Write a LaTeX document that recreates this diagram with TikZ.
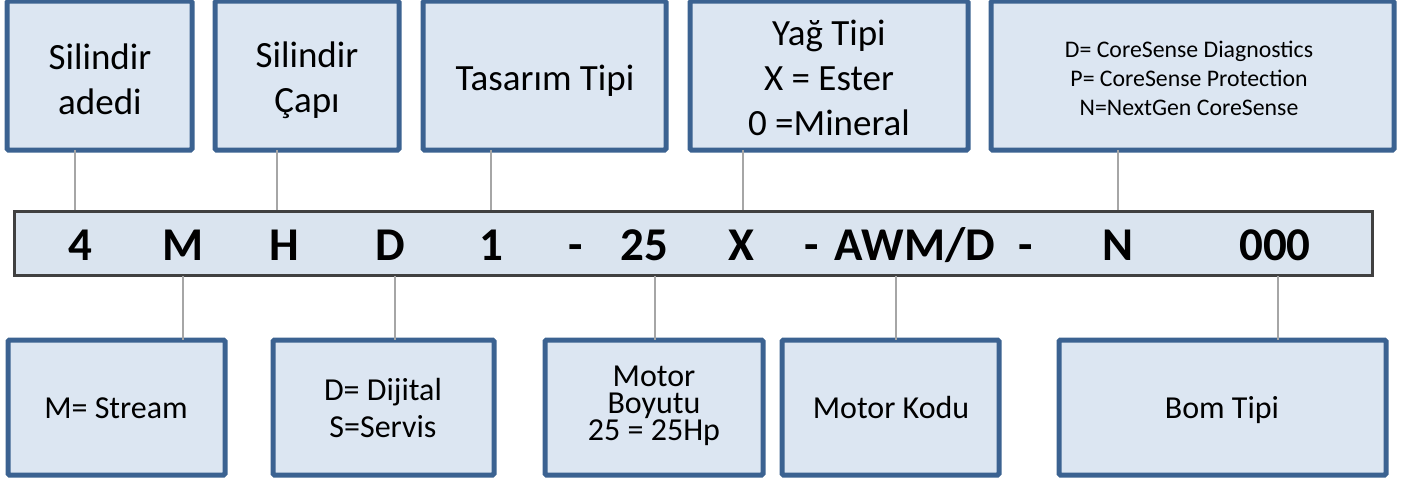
\documentclass[tikz,border=0pt]{standalone}
\usepackage{fontspec}
\setmainfont{Carlito}
\definecolor{boxfill}{HTML}{DCE6F2}
\definecolor{boxline}{HTML}{3B6291}
\definecolor{barfill}{HTML}{DAE4EF}
\definecolor{barline}{HTML}{404040}
\definecolor{linkc}{HTML}{A6A6A6}
\newcommand{\pxbox}[6]{% name, x1, y1, x2, y2, text
  \node[infobox, minimum width=#4pt-#2pt, minimum height=#5pt-#3pt] (#1) at ({(#2+#4)/2},{(#3+#5)/2}) {#6};}
\tikzset{
  x=1pt,y=-1pt,
  infobox/.style={draw=boxline,fill=boxfill,line width=5pt,rounded corners=1.5pt,inner sep=0pt,align=center,outer sep=0pt,text=black},
  codebar/.style={draw=barline,fill=barfill,line width=3pt,inner sep=0pt,outer sep=0pt},
  code/.style={font=\fontsize{47}{47}\selectfont\bfseries,text=black,inner sep=0pt,anchor=base},
  link/.style={draw=linkc,line width=2.4pt},
  big/.style={font=\fontsize{37}{45}\selectfont},
  mid/.style={font=\fontsize{32}{37}\selectfont},
  small/.style={font=\fontsize{23.8}{29}\selectfont},
}
\begin{document}
\begin{tikzpicture}
\useasboundingbox (0,0) rectangle (1401,479);
% bar
\node[codebar,minimum width=1358pt,minimum height=64pt] (bar) at (693,243) {};
% connector feet
\coordinate (c1) at (75,210);
\coordinate (c2) at (277,210);
\coordinate (c3) at (491,210);
\coordinate (c4) at (743,210);
\coordinate (c5) at (1118,210);
\coordinate (c6) at (183,276);
\coordinate (c7) at (395,276);
\coordinate (c8) at (655,276);
\coordinate (c9) at (896,276);
\coordinate (c10) at (1278,276);
% boxes
\pxbox{b1}{7}{1}{192}{150}{}
\pxbox{b2}{215}{1}{399}{150}{}
\pxbox{b3}{423}{1}{666}{150}{}
\pxbox{b4}{690}{1}{968}{150}{}
\pxbox{b5}{991}{1}{1394}{150}{}
\pxbox{b6}{8}{340}{225}{475}{}
\pxbox{b7}{273}{340}{494}{475}{}
\pxbox{b8}{545}{340}{763}{475}{}
\pxbox{b9}{782}{340}{999}{475}{}
\pxbox{b10}{1059}{340}{1386}{475}{}
% box texts
\node[big,align=center] (t1) at (100,79) {Silindir\\adedi};
\node[big,align=center] (t2) at (307,80) {Silindir\\Çapı};
\node[big] (t3) at (545,81) {Tasarım Tipi};
\node[big,align=center] (t4) at (829,78) {Yağ Tipi\\X = Ester\\0 =Mineral};
\node[small,align=center] (t5) at (1189,78) {D= CoreSense Diagnostics\\P= CoreSense Protection\\N=NextGen CoreSense};
\node[mid] (t6) at (116,408) {M= Stream};
\node[mid,align=center] (t7) at (383,408) {D= Dijital\\S=Servis};
\node[mid,align=center,font=\fontsize{32}{27}\selectfont] (t8) at (654,406) {Motor\\Boyutu\\25 = 25Hp};
\node[mid] (t9) at (891,408) {Motor Kodu};
\node[mid] (t10) at (1222,410) {Bom Tipi};
% connectors
\draw[link] (b1.south -| c1) -- (c1);
\draw[link] (b2.south -| c2) -- (c2);
\draw[link] (b3.south -| c3) -- (c3);
\draw[link] (b4.south -| c4) -- (c4);
\draw[link] (b5.south -| c5) -- (c5);
\draw[link] (c6) -- (b6.north -| c6);
\draw[link] (c7) -- (b7.north -| c7);
\draw[link] (c8) -- (b8.north -| c8);
\draw[link] (c9) -- (b9.north -| c9);
\draw[link] (c10) -- (b10.north -| c10);
% code letters
\node[code] (k1) at (80,260) {4};
\node[code] (k2) at (183,260) {M};
\node[code] (k3) at (284,260) {H};
\node[code] (k4) at (390,260) {D};
\node[code] (k5) at (491,260) {1};
\node[code] (k6) at (576,260) {-};
\node[code] (k7) at (644,260) {25};
\node[code] (k8) at (741,260) {X};
\node[code] (k9) at (812,260) {-};
\node[code] (k10) at (915,260) {AWM/D};
\node[code] (k11) at (1026,260) {-};
\node[code] (k12) at (1118,260) {N};
\node[code] (k13) at (1275,260) {000};
\end{tikzpicture}
\end{document}
